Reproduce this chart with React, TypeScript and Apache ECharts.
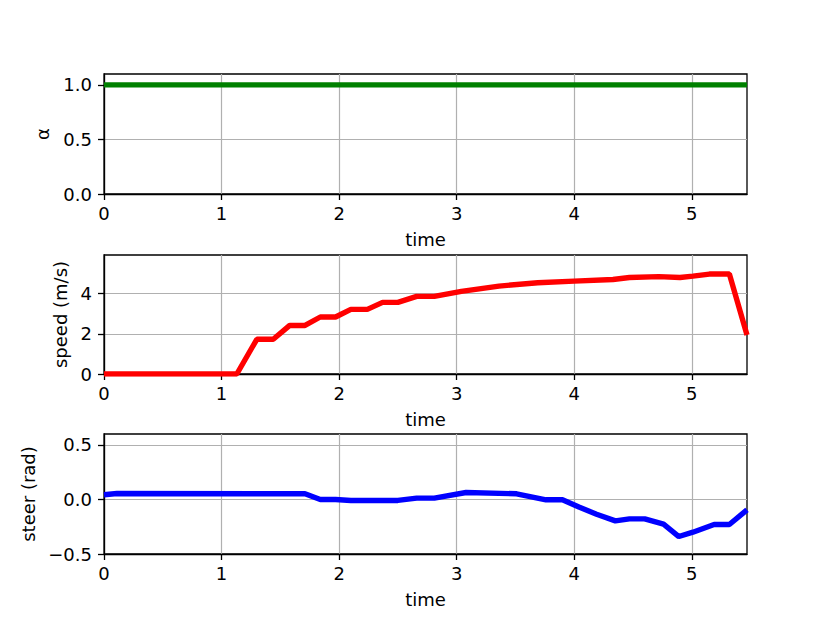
import React, { useEffect, useRef } from "react";
import * as echarts from "echarts";

const xTicks = [0, 1, 2, 3, 4, 5];
const timeMax = 5.47;

const alphaTime = [0, 5.47];
const alphaValues = [1, 1];
const alphaTicks = [0, 0.5, 1.0];

const speedTime = [0, 1.13, 1.3, 1.44, 1.58, 1.71, 1.84, 1.97, 2.1, 2.24, 2.37, 2.5, 2.66, 2.81, 3.04, 3.36, 3.69, 4.0, 4.33, 4.47, 4.72, 4.9, 5.01, 5.15, 5.32, 5.47];
const speedValues = [0, 0, 1.73, 1.73, 2.42, 2.42, 2.84, 2.84, 3.22, 3.22, 3.57, 3.57, 3.87, 3.87, 4.12, 4.38, 4.55, 4.63, 4.71, 4.81, 4.85, 4.81, 4.88, 4.98, 4.98, 1.94];
const speedTicks = [0, 2, 4];

const steerTime = [0, 0.11, 1.71, 1.84, 1.97, 2.1, 2.5, 2.66, 2.81, 3.08, 3.51, 3.76, 3.9, 4.04, 4.19, 4.35, 4.47, 4.6, 4.76, 4.89, 5.01, 5.19, 5.32, 5.47];
const steerValues = [0.043, 0.055, 0.052, 0.0, 0.0, -0.009, -0.009, 0.012, 0.012, 0.064, 0.052, -0.003, -0.003, -0.07, -0.135, -0.196, -0.178, -0.178, -0.227, -0.34, -0.3, -0.23, -0.23, -0.095];
const steerTicks = [-0.5, 0.0, 0.5];

const FONT = "DejaVu Sans";
const GRID_COLOR = "#b0b0b0";

function pairs(t: number[], v: number[]) {
  return t.map((x, i) => [x, v[i]]);
}

export default function App() {
  const ref = useRef<HTMLDivElement>(null);
  useEffect(() => {
    if (!ref.current) return;
    const chart = echarts.init(ref.current, null, { renderer: "svg" });
    const grids = [
      { left: 104, top: 74, width: 643, height: 120 },
      { left: 104, top: 255, width: 643, height: 119 },
      { left: 104, top: 434, width: 643, height: 120 },
    ].map((g) => ({ ...g, show: true, borderColor: "#000", borderWidth: 1.3, backgroundColor: "#fff" }));

    const xAxisBase = (gi: number) => ({
      type: "value",
      gridIndex: gi,
      min: 0,
      max: timeMax,
      interval: 1,
      name: "time",
      nameLocation: "middle",
      nameGap: 36,
      nameTextStyle: { fontFamily: FONT, fontSize: 18, color: "#000" },
      axisLine: { show: true, onZero: false, lineStyle: { color: "#000", width: 1.3 } },
      axisTick: { show: true, length: 6, customValues: xTicks, lineStyle: { color: "#000", width: 1.3 } },
      axisLabel: {
        show: true,
        customValues: xTicks,
        margin: 10,
        fontFamily: FONT,
        fontSize: 18,
        color: "#000",
        formatter: (v: number) => String(Math.round(v)),
      },
      splitLine: { show: true, lineStyle: { color: GRID_COLOR, width: 1.2 } },
    });

    const yAxisBase = (gi: number, min: number, max: number, interval: number, ticks: number[], name: string, nameGap: number, fmt: (v: number) => string) => ({
      type: "value",
      gridIndex: gi,
      min,
      max,
      interval,
      name,
      nameLocation: "middle",
      nameGap,
      nameTextStyle: { fontFamily: FONT, fontSize: 18, color: "#000" },
      axisLine: { show: true, onZero: false, lineStyle: { color: "#000", width: 1.3 } },
      axisTick: { show: true, length: 6, customValues: ticks, lineStyle: { color: "#000", width: 1.3 } },
      axisLabel: {
        show: true,
        customValues: ticks,
        margin: 12,
        fontFamily: FONT,
        fontSize: 18,
        color: "#000",
        formatter: fmt,
      },
      splitLine: { show: true, lineStyle: { color: GRID_COLOR, width: 1.2 } },
    });

    const fmt1 = (v: number) => v.toFixed(1).replace("-", "\u2212");
    const fmt0 = (v: number) => String(Math.round(v));

    chart.setOption({
      animation: false,
      backgroundColor: "#fff",
      grid: grids,
      xAxis: [xAxisBase(0), xAxisBase(1), xAxisBase(2)],
      yAxis: [
        yAxisBase(0, 0, 1.1, 0.5, alphaTicks, "\u03b1", 53, fmt1),
        yAxisBase(1, 0, 5.93, 2, speedTicks, "speed (m/s)", 32, fmt0),
        yAxisBase(2, -0.5, 0.6, 0.5, steerTicks, "steer (rad)", 64, fmt1),
      ],
      series: [
        {
          type: "line",
          xAxisIndex: 0,
          yAxisIndex: 0,
          data: pairs(alphaTime, alphaValues),
          showSymbol: false,
          symbol: "none",
          lineStyle: { color: "#008000", width: 5.4 },
          clip: true,
        },
        {
          type: "line",
          xAxisIndex: 1,
          yAxisIndex: 1,
          data: pairs(speedTime, speedValues),
          showSymbol: false,
          symbol: "none",
          lineStyle: { color: "#ff0000", width: 5.4 },
          clip: true,
        },
        {
          type: "line",
          xAxisIndex: 2,
          yAxisIndex: 2,
          data: pairs(steerTime, steerValues),
          showSymbol: false,
          symbol: "none",
          lineStyle: { color: "#0000ff", width: 5.4 },
          clip: true,
        },
      ],
    });
    return () => chart.dispose();
  }, []);
  return (
    <div
      ref={ref}
      style={{ position: "fixed", left: 0, top: 0, width: 830, height: 623, background: "#fff" }}
    />
  );
}
